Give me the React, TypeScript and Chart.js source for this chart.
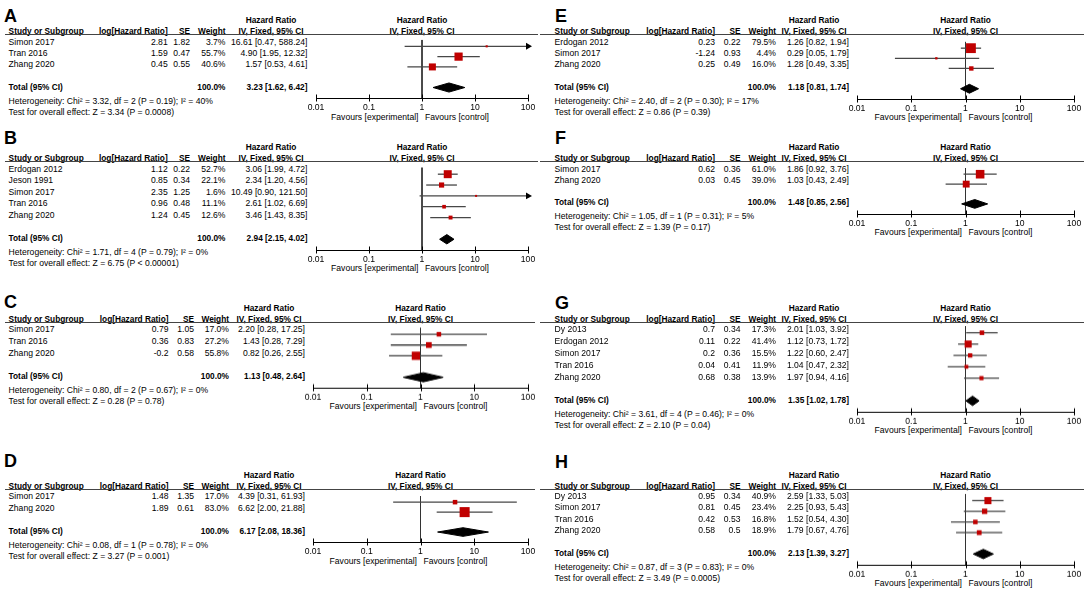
import React, { useEffect, useRef } from "react";
import { Chart, registerables } from "chart.js";
Chart.register(...registerables);

// ---------- shared labels ----------
const AXIS_TICKS = [0.01, 0.1, 1, 10, 100];
const AXIS_TICK_LABELS = ["0.01", "0.1", "1", "10", "100"];
const FAVOURS_LEFT = "Favours [experimental]";
const FAVOURS_RIGHT = "Favours [control]";
const HEAD_STUDY = "Study or Subgroup";
const HEAD_LOG = "log[Hazard Ratio]";
const HEAD_SE = "SE";
const HEAD_W = "Weight";
const HEAD_HR = "Hazard Ratio";
const HEAD_METHOD = "IV, Fixed, 95% CI";
const TOTAL_LABEL = "Total (95% CI)";
const TOTAL_WEIGHT = "100.0%";

// ---------- panel A ----------
const A_STUDY = ["Simon 2017", "Tran 2016", "Zhang 2020"];
const A_LOGHR = [2.81, 1.59, 0.45];
const A_SE = [1.82, 0.47, 0.55];
const A_WEIGHT = [3.7, 55.7, 40.6];
const A_HR = [16.61, 4.9, 1.57];
const A_LOW = [0.47, 1.95, 0.53];
const A_HIGH = [588.24, 12.32, 4.61];
const A_TOTAL = [3.23, 1.62, 6.42];
const A_HET = "Heterogeneity: Chi² = 3.32, df = 2 (P = 0.19); I² = 40%";
const A_TEST = "Test for overall effect: Z = 3.34 (P = 0.0008)";

// ---------- panel B ----------
const B_STUDY = ["Erdogan 2012", "Jeson 1991", "Simon 2017", "Tran 2016", "Zhang 2020"];
const B_LOGHR = [1.12, 0.85, 2.35, 0.96, 1.24];
const B_SE = [0.22, 0.34, 1.25, 0.48, 0.45];
const B_WEIGHT = [52.7, 22.1, 1.6, 11.1, 12.6];
const B_HR = [3.06, 2.34, 10.49, 2.61, 3.46];
const B_LOW = [1.99, 1.2, 0.9, 1.02, 1.43];
const B_HIGH = [4.72, 4.56, 121.5, 6.69, 8.35];
const B_TOTAL = [2.94, 2.15, 4.02];
const B_HET = "Heterogeneity: Chi² = 1.71, df = 4 (P = 0.79); I² = 0%";
const B_TEST = "Test for overall effect: Z = 6.75 (P < 0.00001)";

// ---------- panel C ----------
const C_STUDY = ["Simon 2017", "Tran 2016", "Zhang 2020"];
const C_LOGHR = [0.79, 0.36, -0.2];
const C_SE = [1.05, 0.83, 0.58];
const C_WEIGHT = [17.0, 27.2, 55.8];
const C_HR = [2.2, 1.43, 0.82];
const C_LOW = [0.28, 0.28, 0.26];
const C_HIGH = [17.25, 7.29, 2.55];
const C_TOTAL = [1.13, 0.48, 2.64];
const C_HET = "Heterogeneity: Chi² = 0.80, df = 2 (P = 0.67); I² = 0%";
const C_TEST = "Test for overall effect: Z = 0.28 (P = 0.78)";

// ---------- panel D ----------
const D_STUDY = ["Simon 2017", "Zhang 2020"];
const D_LOGHR = [1.48, 1.89];
const D_SE = [1.35, 0.61];
const D_WEIGHT = [17.0, 83.0];
const D_HR = [4.39, 6.62];
const D_LOW = [0.31, 2.0];
const D_HIGH = [61.93, 21.88];
const D_TOTAL = [6.17, 2.08, 18.36];
const D_HET = "Heterogeneity: Chi² = 0.08, df = 1 (P = 0.78); I² = 0%";
const D_TEST = "Test for overall effect: Z = 3.27 (P = 0.001)";

// ---------- panel E ----------
const E_STUDY = ["Erdogan 2012", "Simon 2017", "Zhang 2020"];
const E_LOGHR = [0.23, -1.24, 0.25];
const E_SE = [0.22, 0.93, 0.49];
const E_WEIGHT = [79.5, 4.4, 16.0];
const E_HR = [1.26, 0.29, 1.28];
const E_LOW = [0.82, 0.05, 0.49];
const E_HIGH = [1.94, 1.79, 3.35];
const E_TOTAL = [1.18, 0.81, 1.74];
const E_HET = "Heterogeneity: Chi² = 2.40, df = 2 (P = 0.30); I² = 17%";
const E_TEST = "Test for overall effect: Z = 0.86 (P = 0.39)";

// ---------- panel F ----------
const F_STUDY = ["Simon 2017", "Zhang 2020"];
const F_LOGHR = [0.62, 0.03];
const F_SE = [0.36, 0.45];
const F_WEIGHT = [61.0, 39.0];
const F_HR = [1.86, 1.03];
const F_LOW = [0.92, 0.43];
const F_HIGH = [3.76, 2.49];
const F_TOTAL = [1.48, 0.85, 2.56];
const F_HET = "Heterogeneity: Chi² = 1.05, df = 1 (P = 0.31); I² = 5%";
const F_TEST = "Test for overall effect: Z = 1.39 (P = 0.17)";

// ---------- panel G ----------
const G_STUDY = ["Dy 2013", "Erdogan 2012", "Simon 2017", "Tran 2016", "Zhang 2020"];
const G_LOGHR = [0.7, 0.11, 0.2, 0.04, 0.68];
const G_SE = [0.34, 0.22, 0.36, 0.41, 0.38];
const G_WEIGHT = [17.3, 41.4, 15.5, 11.9, 13.9];
const G_HR = [2.01, 1.12, 1.22, 1.04, 1.97];
const G_LOW = [1.03, 0.73, 0.6, 0.47, 0.94];
const G_HIGH = [3.92, 1.72, 2.47, 2.32, 4.16];
const G_TOTAL = [1.35, 1.02, 1.78];
const G_HET = "Heterogeneity: Chi² = 3.61, df = 4 (P = 0.46); I² = 0%";
const G_TEST = "Test for overall effect: Z = 2.10 (P = 0.04)";

// ---------- panel H ----------
const H_STUDY = ["Dy 2013", "Simon 2017", "Tran 2016", "Zhang 2020"];
const H_LOGHR = [0.95, 0.81, 0.42, 0.58];
const H_SE = [0.34, 0.45, 0.53, 0.5];
const H_WEIGHT = [40.9, 23.4, 16.8, 18.9];
const H_HR = [2.59, 2.25, 1.52, 1.79];
const H_LOW = [1.33, 0.93, 0.54, 0.67];
const H_HIGH = [5.03, 5.43, 4.3, 4.76];
const H_TOTAL = [2.13, 1.39, 3.27];
const H_HET = "Heterogeneity: Chi² = 0.87, df = 3 (P = 0.83); I² = 0%";
const H_TEST = "Test for overall effect: Z = 3.49 (P = 0.0005)";

// ---------- styling / layout ----------
const FONT = '"Liberation Sans", Arial, Helvetica, sans-serif';
const FS = 8.6;
const FS_BOLD = 8.3;
const LETTER_FS = 18;
const BOX_COLOR = "#c00000";
const CI_COLOR = "#474747";
const REF_COLOR = "#333333";
const AXIS_COLOR = "#000000";
const RULE_COLOR = "#444444";
const PAD = 18;
const XAXIS_H = 24;
const TICK_HALF = 3.5;
const BOX_K = 1.1;
const DIAMOND_HALF = 5;
const FIRST_ROW = 7;
const AXIS_GAP = 11.5;

type Geo = {
  letterX: number; letterY: number; ruleX0: number; ruleX1: number; lineY: number; rowH: number;
  studyX: number; logX: number; seX: number; wX: number; ciX: number; hrX: number; axL: number; axR: number;
};

const LEFT_AB = { letterX: 4, ruleX0: 5, ruleX1: 538, studyX: 8.6, logX: 167.7, seX: 190, wX: 225.5, ciX: 307.5, hrX: 271, axL: 316, axR: 528 };
const LEFT_CD = { letterX: 4, ruleX0: 5, ruleX1: 535, studyX: 8.6, logX: 168.5, seX: 194, wX: 229, ciX: 305, hrX: 269, axL: 313, axR: 528 };
const RIGHT = { letterX: 555, ruleX0: 540, ruleX1: 1084, studyX: 554.6, logX: 715, seX: 740.5, wX: 776, ciX: 849, hrX: 814, axL: 857, axR: 1074 };

const GEO: Record<string, Geo> = {
  A: { ...LEFT_AB, letterY: 16, lineY: 34.5, rowH: 11.3 },
  B: { ...LEFT_AB, letterY: 138, lineY: 161.5, rowH: 11.6 },
  C: { ...LEFT_CD, letterY: 302, lineY: 322, rowH: 11.8 },
  D: { ...LEFT_CD, letterY: 461, lineY: 489, rowH: 11.5 },
  E: { ...RIGHT, letterY: 16, lineY: 34.5, rowH: 11.4 },
  F: { ...RIGHT, letterY: 138, lineY: 161.5, rowH: 11.3 },
  G: { ...RIGHT, letterY: 303, lineY: 322, rowH: 11.9 },
  H: { ...RIGHT, letterY: 462, lineY: 489, rowH: 11.4 },
};

type PanelData = {
  id: string; study: string[]; loghr: number[]; se: number[]; weight: number[];
  hr: number[]; low: number[]; high: number[]; total: number[]; het: string; test: string;
};

const PANELS: PanelData[] = [
  { id: "A", study: A_STUDY, loghr: A_LOGHR, se: A_SE, weight: A_WEIGHT, hr: A_HR, low: A_LOW, high: A_HIGH, total: A_TOTAL, het: A_HET, test: A_TEST },
  { id: "B", study: B_STUDY, loghr: B_LOGHR, se: B_SE, weight: B_WEIGHT, hr: B_HR, low: B_LOW, high: B_HIGH, total: B_TOTAL, het: B_HET, test: B_TEST },
  { id: "C", study: C_STUDY, loghr: C_LOGHR, se: C_SE, weight: C_WEIGHT, hr: C_HR, low: C_LOW, high: C_HIGH, total: C_TOTAL, het: C_HET, test: C_TEST },
  { id: "D", study: D_STUDY, loghr: D_LOGHR, se: D_SE, weight: D_WEIGHT, hr: D_HR, low: D_LOW, high: D_HIGH, total: D_TOTAL, het: D_HET, test: D_TEST },
  { id: "E", study: E_STUDY, loghr: E_LOGHR, se: E_SE, weight: E_WEIGHT, hr: E_HR, low: E_LOW, high: E_HIGH, total: E_TOTAL, het: E_HET, test: E_TEST },
  { id: "F", study: F_STUDY, loghr: F_LOGHR, se: F_SE, weight: F_WEIGHT, hr: F_HR, low: F_LOW, high: F_HIGH, total: F_TOTAL, het: F_HET, test: F_TEST },
  { id: "G", study: G_STUDY, loghr: G_LOGHR, se: G_SE, weight: G_WEIGHT, hr: G_HR, low: G_LOW, high: G_HIGH, total: G_TOTAL, het: G_HET, test: G_TEST },
  { id: "H", study: H_STUDY, loghr: H_LOGHR, se: H_SE, weight: H_WEIGHT, hr: H_HR, low: H_LOW, high: H_HIGH, total: H_TOTAL, het: H_HET, test: H_TEST },
];

const fmtCI = (e: number, l: number, h: number) => `${e.toFixed(2)} [${l.toFixed(2)}, ${h.toFixed(2)}]`;

function T(props: { x: number; y: number; text: string; align?: "left" | "right" | "center"; bold?: boolean; size?: number }) {
  const { x, y, text, align = "left", bold = false } = props;
  const size = props.size ?? (bold ? FS_BOLD : FS);
  const tx = align === "left" ? "0" : align === "right" ? "-100%" : "-50%";
  return (
    <div
      style={{
        position: "absolute",
        left: x,
        top: y,
        transform: `translate(${tx}, -50%)`,
        whiteSpace: "nowrap",
        fontFamily: FONT,
        fontSize: size,
        fontWeight: bold ? 700 : 400,
        lineHeight: 1,
        color: "#000",
      }}
    >
      {text}
    </div>
  );
}

const tickMarks = {
  id: "tickMarks",
  afterDraw(chart: any) {
    const s = chart.scales.x;
    const ctx = chart.ctx;
    ctx.save();
    ctx.strokeStyle = AXIS_COLOR;
    ctx.lineWidth = 1;
    AXIS_TICKS.forEach((v) => {
      const px = Math.round(s.getPixelForValue(v)) + 0.5;
      ctx.beginPath();
      ctx.moveTo(px, s.top - TICK_HALF);
      ctx.lineTo(px, s.top + TICK_HALF);
      ctx.stroke();
    });
    ctx.restore();
  },
};

function ForestChart({ p, g }: { p: PanelData; g: Geo }) {
  const ref = useRef<HTMLCanvasElement>(null);
  const n = p.study.length;
  const totalY = g.lineY + FIRST_ROW + (n + 1) * g.rowH;
  const axisY = totalY + AXIS_GAP;
  const plotH = axisY - g.lineY;
  const W = g.axR - g.axL + 2 * PAD;
  const H = plotH + XAXIS_H;

  useEffect(() => {
    if (!ref.current) return;
    const yMin = -FIRST_ROW / g.rowH;
    const yMax = yMin + plotH / g.rowH;
    const xMin = AXIS_TICKS[0];
    const xMax = AXIS_TICKS[AXIS_TICKS.length - 1];
    const sets: any[] = [];
    // reference line at HR = 1 (drawn at the bottom)
    sets.push({ data: [{ x: 1, y: yMin }, { x: 1, y: yMax }], borderColor: REF_COLOR, borderWidth: 1, pointRadius: 0 });
    // CI whiskers
    p.low.forEach((lo, i) => {
      const hi = p.high[i];
      const arrow = hi > xMax;
      sets.push({
        data: [{ x: Math.max(lo, xMin), y: i }, { x: Math.min(hi, xMax), y: i }],
        borderColor: CI_COLOR,
        borderWidth: 1.3,
        pointRadius: [0, arrow ? 4 : 0],
        pointStyle: "triangle",
        pointRotation: 90,
        pointBackgroundColor: "#000",
        pointBorderColor: "#000",
        pointBorderWidth: 0,
      });
    });
    // pooled diamond
    const [est, tlo, thi] = p.total;
    const ty = n + 1;
    const d = DIAMOND_HALF / g.rowH;
    sets.push({
      data: [{ x: tlo, y: ty }, { x: est, y: ty - d }, { x: thi, y: ty }, { x: est, y: ty + d }, { x: tlo, y: ty }],
      borderColor: "#000",
      backgroundColor: "#000",
      borderWidth: 1,
      fill: "shape",
      pointRadius: 0,
    });
    // study boxes (on top)
    sets.push({
      data: p.hr.map((v, i) => ({ x: v, y: i })),
      showLine: false,
      pointStyle: "rect",
      pointRadius: p.weight.map((w) => Math.max(2, Math.sqrt(w) * BOX_K) / Math.SQRT2),
      pointBackgroundColor: BOX_COLOR,
      pointBorderColor: BOX_COLOR,
      pointBorderWidth: 0,
    });
    sets.forEach((s) => { s.clip = false; s.tension = 0; });
    sets.reverse();

    const chart = new Chart(ref.current, {
      type: "line",
      data: { datasets: sets },
      options: {
        animation: false,
        responsive: false,
        maintainAspectRatio: false,
        events: [],
        layout: { padding: { left: PAD, right: PAD, top: 0, bottom: 0 } },
        plugins: { legend: { display: false }, tooltip: { enabled: false }, title: { display: false } },
        scales: {
          x: {
            type: "logarithmic",
            position: "bottom",
            min: xMin,
            max: xMax,
            afterBuildTicks: (s: any) => { s.ticks = AXIS_TICKS.map((v) => ({ value: v })); },
            afterFit: (s: any) => { s.height = XAXIS_H; },
            grid: { display: false, drawTicks: false },
            border: { display: true, color: AXIS_COLOR, width: 1 },
            ticks: {
              autoSkip: false,
              maxRotation: 0,
              padding: 4,
              color: "#000",
              font: { family: FONT, size: FS },
              callback: (_v: any, i: number) => AXIS_TICK_LABELS[i],
            },
          },
          y: { type: "linear", display: false, reverse: true, min: yMin, max: yMax },
        },
      } as any,
      plugins: [tickMarks],
    });
    return () => chart.destroy();
  }, []);

  return (
    <canvas
      ref={ref}
      width={W}
      height={H}
      style={{ position: "absolute", left: g.axL - PAD, top: g.lineY, width: W, height: H }}
    />
  );
}

function Panel({ p }: { p: PanelData }) {
  const g = GEO[p.id];
  const n = p.study.length;
  const rowY = (i: number) => g.lineY + FIRST_ROW + i * g.rowH;
  const totalY = rowY(n + 1);
  const axisY = totalY + AXIS_GAP;
  const x1 = (g.axL + g.axR) / 2;
  const h1 = g.lineY - 14.5;
  const h2 = g.lineY - 3.5;
  return (
    <>
      <T x={g.letterX} y={g.letterY} text={p.id} bold size={LETTER_FS} />
      <T x={g.hrX} y={h1} text={HEAD_HR} bold align="center" />
      <T x={x1} y={h1} text={HEAD_HR} bold align="center" />
      <T x={g.studyX} y={h2} text={HEAD_STUDY} bold />
      <T x={g.logX} y={h2} text={HEAD_LOG} bold align="right" />
      <T x={g.seX} y={h2} text={HEAD_SE} bold align="right" />
      <T x={g.wX} y={h2} text={HEAD_W} bold align="right" />
      <T x={g.hrX} y={h2} text={HEAD_METHOD} bold align="center" />
      <T x={x1} y={h2} text={HEAD_METHOD} bold align="center" />
      <div style={{ position: "absolute", left: g.ruleX0, top: g.lineY - 0.5, width: g.ruleX1 - g.ruleX0, height: 1, background: RULE_COLOR }} />
      {p.study.map((s, i) => (
        <React.Fragment key={s}>
          <T x={g.studyX} y={rowY(i)} text={s} />
          <T x={g.logX} y={rowY(i)} text={String(p.loghr[i])} align="right" />
          <T x={g.seX} y={rowY(i)} text={String(p.se[i])} align="right" />
          <T x={g.wX} y={rowY(i)} text={p.weight[i].toFixed(1) + "%"} align="right" />
          <T x={g.ciX} y={rowY(i)} text={fmtCI(p.hr[i], p.low[i], p.high[i])} align="right" />
        </React.Fragment>
      ))}
      <T x={g.studyX} y={totalY} text={TOTAL_LABEL} bold />
      <T x={g.wX} y={totalY} text={TOTAL_WEIGHT} bold align="right" />
      <T x={g.ciX} y={totalY} text={fmtCI(p.total[0], p.total[1], p.total[2])} bold align="right" />
      <T x={g.studyX} y={totalY + 14} text={p.het} />
      <T x={g.studyX} y={totalY + 25} text={p.test} />
      <T x={x1 - 3.5} y={axisY + 18.5} text={FAVOURS_LEFT} align="right" />
      <T x={x1 + 3} y={axisY + 18.5} text={FAVOURS_RIGHT} />
      <ForestChart p={p} g={g} />
    </>
  );
}

export default function App() {
  return (
    <div style={{ position: "fixed", left: 0, top: 0, width: 1084, height: 591, background: "#fff", overflow: "hidden" }}>
      {PANELS.map((p) => (
        <Panel key={p.id} p={p} />
      ))}
    </div>
  );
}
